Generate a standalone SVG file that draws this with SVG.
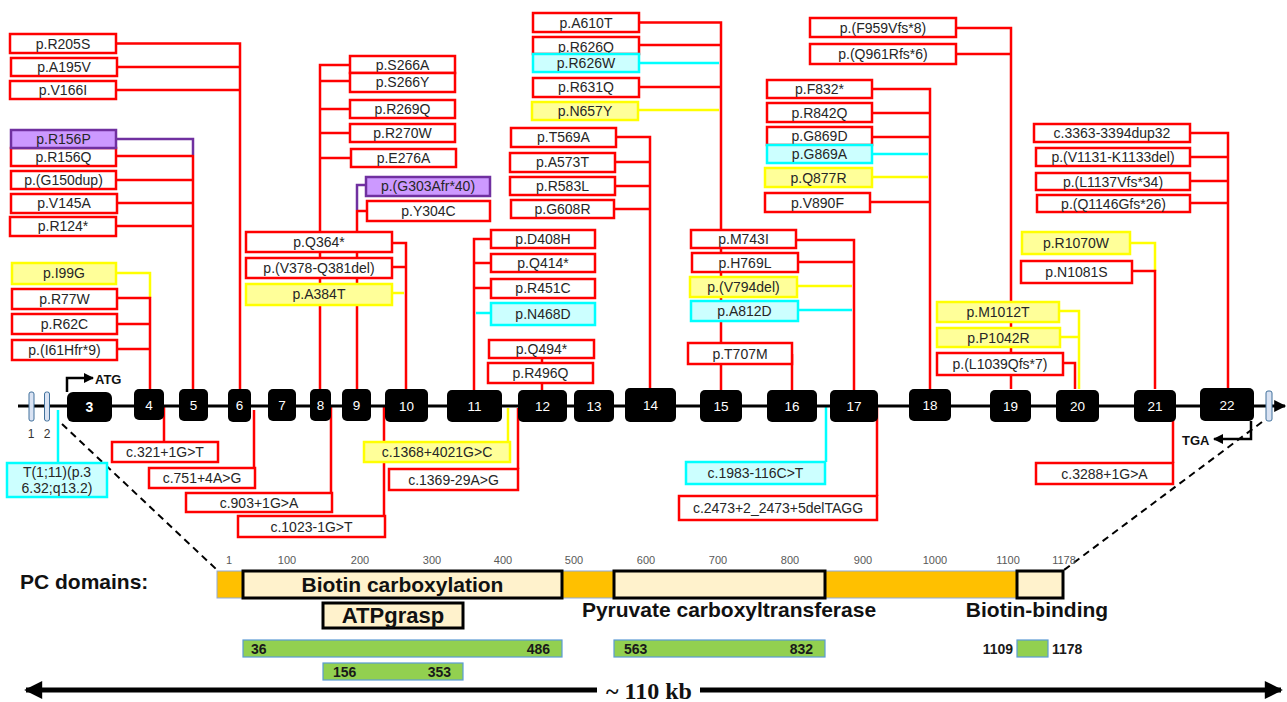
<svg xmlns="http://www.w3.org/2000/svg" width="1287" height="702" viewBox="0 0 1287 702">
<defs>
<style>
.r{fill:#fff;stroke:#ff0000;stroke-width:2.5}
.y{fill:#ffff99;stroke:#ffff00;stroke-width:2.5}
.c{fill:#ccffff;stroke:#00ffff;stroke-width:2.5}
.p{fill:#cc99ff;stroke:#7030a0;stroke-width:2.5}
.t{font-family:"Liberation Sans",Arial,sans-serif;font-size:14px;fill:#262626;text-anchor:middle}
.lr{stroke:#ff0000;stroke-width:2.5;fill:none}
.ly{stroke:#ffff00;stroke-width:2.5;fill:none}
.lc{stroke:#00ffff;stroke-width:2.5;fill:none}
.lp{stroke:#7030a0;stroke-width:2.5;fill:none}
.ex{fill:#000}
.exl{font-family:"Liberation Sans",Arial,sans-serif;font-size:13.5px;fill:#fff;text-anchor:middle}
.sm{fill:#dae3f3;stroke:#41719c;stroke-width:1}
.sc{font-family:"Liberation Sans",Arial,sans-serif;font-size:11px;fill:#595959;text-anchor:middle}
.b{font-family:"Liberation Sans",Arial,sans-serif;font-weight:bold;fill:#111}
.dl{font-family:"Liberation Sans",Arial,sans-serif;font-weight:bold;fill:#111;font-size:21px;text-anchor:middle}
.dom{fill:#fff2cc;stroke:#000;stroke-width:3}
.gr{fill:#92d050;stroke:#5b9bd5;stroke-width:1.2}
.gt{font-family:"Liberation Sans",Arial,sans-serif;font-weight:bold;font-size:14px;fill:#1a1a1a}
.dash{stroke:#000;stroke-width:2;stroke-dasharray:7,5;fill:none}
</style>
<marker id="ahS" viewBox="0 0 10 10" refX="9" refY="5" markerWidth="12" markerHeight="10" markerUnits="userSpaceOnUse" orient="auto"><path d="M0,0 L10,5 L0,10 z" fill="#000"/></marker>
<marker id="ahM" viewBox="0 0 10 10" refX="9" refY="5" markerWidth="16" markerHeight="12" markerUnits="userSpaceOnUse" orient="auto"><path d="M0,0 L10,5 L0,10 z" fill="#000"/></marker>
<marker id="ahL" viewBox="0 0 10 10" refX="9" refY="5" markerWidth="24" markerHeight="18" markerUnits="userSpaceOnUse" orient="auto"><path d="M0,0 L10,5 L0,10 z" fill="#000"/></marker>
</defs>
<rect width="1287" height="702" fill="#fff"/>

<g id="connectors">
<path class="lr" d="M116,43.5 H240 V389 M117,67 H240 M116,90 H240"/>
<path class="lp" d="M116,139 H193 V155"/>
<path class="lr" d="M193,155 V389 M116,156 H193 M116,180 H193 M117,203 H193 M116,226 H193"/>
<path class="ly" d="M116,273 H150 V298"/>
<path class="lr" d="M117,298 H150 V389 M117,324 H150 M117,349 H150"/>
<path class="lr" d="M350,65 H320 V389 M350,81 H320 M350,109 H320 M350,133 H320 M351,158 H320"/>
<path class="lp" d="M366,185 H357 V210"/>
<path class="lr" d="M357,210 V389 M367,211 H357"/>
<path class="lr" d="M392,243 H406 V389 M392,267 H406"/>
<path class="ly" d="M392,293 H404"/>
<path class="lr" d="M491,239 H474 V390 M491,263 H474 M491,288 H474"/>
<path class="lc" d="M491,313 H476"/>
<path class="lr" d="M542,358 V363 M542,383 V390"/>
<path class="lr" d="M616,137 H650 V388 M615,162 H650 M615,186 H650 M614,209 H650"/>
<path class="lr" d="M639,22.5 H721 V390 M639,45 H721 M639,87 H721"/>
<path class="lc" d="M639,63 H719"/>
<path class="ly" d="M638,110 H719"/>
<path class="lr" d="M796,240 H854 V390 M798,262 H854"/>
<path class="ly" d="M797,286 H852"/>
<path class="lc" d="M798,310 H852"/>
<path class="lr" d="M792,354 V390"/>
<path class="lr" d="M956,28 H1011 V389 M956,54 H1011"/>
<path class="lr" d="M872,89 H930 V389 M872,113 H930 M872,137 H930 M870,202 H930"/>
<path class="lc" d="M872,154 H928"/>
<path class="ly" d="M872,177 H928"/>
<path class="lr" d="M1190,133 H1228 V388 M1190,157 H1228 M1190,181 H1228 M1190,203 H1228"/>
<path class="ly" d="M1130,243 H1155 V271"/>
<path class="lr" d="M1132,271 H1155 V389"/>
<path class="ly" d="M1059,311 H1079 V389 M1060,337 H1079"/>
<path class="lr" d="M1063,363 H1075 V389"/>
<path class="lr" d="M164,405 V442 M254,410 V468 M331,407 V493 M384,407 V516 M518,408 V469 M877,405 V496 M1173,407 V463"/>
<path class="ly" d="M508,408 V442"/>
<path class="lc" d="M826,405 V462 M58,410 V463"/>
<path class="dash" d="M62,424 L216,569"/>
<path class="dash" d="M1262,422 L1064,570"/>
</g>

<g id="gene">
<line x1="18" y1="406" x2="1285" y2="406" stroke="#000" stroke-width="3" marker-end="url(#ahM)"/>
<rect class="sm" x="29" y="392" width="5" height="29" rx="2"/>
<rect class="sm" x="44.5" y="392" width="5" height="29" rx="2"/>
<rect class="sm" x="1266" y="391" width="6" height="30" rx="2"/>
<text class="sc" x="31" y="438" style="font-size:12px;fill:#333">1</text>
<text class="sc" x="47" y="438" style="font-size:12px;fill:#333">2</text>
<path d="M67,392 V378 H93" stroke="#000" stroke-width="2.5" fill="none" marker-end="url(#ahS)"/>
<text class="b" x="95" y="384" style="font-size:13px">ATG</text>
<path d="M1251,421 V439 H1214" stroke="#000" stroke-width="2.5" fill="none" marker-end="url(#ahS)"/>
<text class="b" x="1182" y="445" style="font-size:13px">TGA</text>
</g>

<g id="exons">
<g id="ex3"><rect class="ex" x="67" y="392" width="45" height="30" rx="6"/><text class="exl" x="89.5" y="412" style="font-weight:bold;font-size:14px">3</text></g>
<g id="ex4"><rect class="ex" x="134" y="389" width="30" height="31" rx="5"/><text class="exl" x="149" y="410">4</text></g>
<g id="ex5"><rect class="ex" x="179" y="389" width="29" height="32" rx="5"/><text class="exl" x="193.5" y="410">5</text></g>
<g id="ex6"><rect class="ex" x="228" y="389" width="23" height="33" rx="5"/><text class="exl" x="239.5" y="410">6</text></g>
<g id="ex7"><rect class="ex" x="268" y="389" width="28" height="32" rx="5"/><text class="exl" x="282" y="410">7</text></g>
<g id="ex8"><rect class="ex" x="310" y="389" width="21" height="32" rx="5"/><text class="exl" x="320.5" y="410">8</text></g>
<g id="ex9"><rect class="ex" x="342" y="389" width="29" height="32" rx="5"/><text class="exl" x="356.5" y="410">9</text></g>
<g id="ex10"><rect class="ex" x="385" y="389" width="43" height="33" rx="5"/><text class="exl" x="406.5" y="411">10</text></g>
<g id="ex11"><rect class="ex" x="447" y="390" width="55" height="32" rx="5"/><text class="exl" x="474.5" y="411">11</text></g>
<g id="ex12"><rect class="ex" x="518" y="390" width="49" height="32" rx="5"/><text class="exl" x="542.5" y="411">12</text></g>
<g id="ex13"><rect class="ex" x="574" y="390" width="40" height="32" rx="5"/><text class="exl" x="594" y="411">13</text></g>
<g id="ex14"><rect class="ex" x="625" y="388" width="51" height="34" rx="5"/><text class="exl" x="650.5" y="410">14</text></g>
<g id="ex15"><rect class="ex" x="700" y="390" width="42" height="32" rx="5"/><text class="exl" x="721" y="411">15</text></g>
<g id="ex16"><rect class="ex" x="767" y="390" width="50" height="32" rx="5"/><text class="exl" x="792" y="411">16</text></g>
<g id="ex17"><rect class="ex" x="830" y="390" width="48" height="32" rx="5"/><text class="exl" x="854" y="411">17</text></g>
<g id="ex18"><rect class="ex" x="909" y="389" width="42" height="32" rx="5"/><text class="exl" x="930" y="410">18</text></g>
<g id="ex19"><rect class="ex" x="990" y="390" width="41" height="32" rx="5"/><text class="exl" x="1010.5" y="411">19</text></g>
<g id="ex20"><rect class="ex" x="1056" y="390" width="43" height="32" rx="5"/><text class="exl" x="1077.5" y="411">20</text></g>
<g id="ex21"><rect class="ex" x="1134" y="390" width="42" height="32" rx="5"/><text class="exl" x="1155" y="411">21</text></g>
<g id="ex22"><rect class="ex" x="1200" y="388" width="54" height="33" rx="5"/><text class="exl" x="1227" y="410">22</text></g>
</g>

<g id="variants">
<g id="v-R205S"><rect class="r" x="10" y="34" width="106" height="19"/><text class="t" x="63" y="48.5">p.R205S</text></g>
<g id="v-A195V"><rect class="r" x="11" y="58" width="106" height="18"/><text class="t" x="64" y="72">p.A195V</text></g>
<g id="v-V166I"><rect class="r" x="10" y="81" width="106" height="18"/><text class="t" x="63" y="95">p.V166I</text></g>
<g id="v-R156Q"><rect class="r" x="11" y="148" width="105" height="18"/><text class="t" x="63.5" y="162">p.R156Q</text></g>
<g id="v-R156P"><rect class="p" x="11" y="130" width="105" height="18"/><text class="t" x="63.5" y="144">p.R156P</text></g>
<g id="v-G150dup"><rect class="r" x="11" y="171" width="105" height="18"/><text class="t" x="63.5" y="185">p.(G150dup)</text></g>
<g id="v-V145A"><rect class="r" x="11" y="194" width="106" height="19"/><text class="t" x="64" y="208">p.V145A</text></g>
<g id="v-R124"><rect class="r" x="10" y="217" width="106" height="19"/><text class="t" x="63" y="231">p.R124*</text></g>
<g id="v-I99G"><rect class="y" x="12" y="263" width="104" height="21"/><text class="t" x="64" y="278">p.I99G</text></g>
<g id="v-R77W"><rect class="r" x="12" y="289" width="105" height="20"/><text class="t" x="64.5" y="304">p.R77W</text></g>
<g id="v-R62C"><rect class="r" x="12" y="314" width="105" height="20"/><text class="t" x="64.5" y="329">p.R62C</text></g>
<g id="v-I61Hfr"><rect class="r" x="12" y="340" width="105" height="20"/><text class="t" x="64.5" y="355">p.(I61Hfr*9)</text></g>

<g id="v-S266A"><rect class="r" x="350" y="56" width="105" height="17"/><text class="t" x="402.5" y="69.5">p.S266A</text></g>
<g id="v-S266Y"><rect class="r" x="350" y="73" width="105" height="19"/><text class="t" x="402.5" y="87">p.S266Y</text></g>
<g id="v-R269Q"><rect class="r" x="350" y="100" width="105" height="18"/><text class="t" x="402.5" y="114">p.R269Q</text></g>
<g id="v-R270W"><rect class="r" x="350" y="124" width="105" height="18"/><text class="t" x="402.5" y="138">p.R270W</text></g>
<g id="v-E276A"><rect class="r" x="351" y="149" width="105" height="18"/><text class="t" x="403.5" y="163">p.E276A</text></g>
<g id="v-G303Afr"><rect class="p" x="366" y="177" width="124" height="19"/><text class="t" x="428" y="191">p.(G303Afr*40)</text></g>
<g id="v-Y304C"><rect class="r" x="367" y="201" width="123" height="20"/><text class="t" x="428.5" y="216">p.Y304C</text></g>
<g id="v-Q364"><rect class="r" x="246" y="232" width="146" height="20"/><text class="t" x="319" y="247">p.Q364*</text></g>
<g id="v-V378del"><rect class="r" x="246" y="258" width="146" height="20"/><text class="t" x="319" y="273">p.(V378-Q381del)</text></g>
<g id="v-A384T"><rect class="y" x="246" y="284" width="146" height="21"/><text class="t" x="319" y="299">p.A384T</text></g>

<g id="v-D408H"><rect class="r" x="491" y="230" width="104" height="18"/><text class="t" x="543" y="244">p.D408H</text></g>
<g id="v-Q414"><rect class="r" x="491" y="254" width="104" height="18"/><text class="t" x="543" y="268">p.Q414*</text></g>
<g id="v-R451C"><rect class="r" x="491" y="279" width="104" height="19"/><text class="t" x="543" y="293">p.R451C</text></g>
<g id="v-N468D"><rect class="c" x="491" y="303" width="104" height="22"/><text class="t" x="543" y="319">p.N468D</text></g>
<g id="v-Q494"><rect class="r" x="489" y="340" width="105" height="18"/><text class="t" x="541.5" y="354">p.Q494*</text></g>
<g id="v-R496Q"><rect class="r" x="488" y="363" width="105" height="20"/><text class="t" x="540.5" y="378">p.R496Q</text></g>
<g id="v-T569A"><rect class="r" x="511" y="128" width="105" height="19"/><text class="t" x="563.5" y="142">p.T569A</text></g>
<g id="v-A573T"><rect class="r" x="510" y="153" width="105" height="19"/><text class="t" x="562.5" y="167">p.A573T</text></g>
<g id="v-R583L"><rect class="r" x="510" y="177" width="105" height="18"/><text class="t" x="562.5" y="191">p.R583L</text></g>
<g id="v-G608R"><rect class="r" x="511" y="200" width="103" height="18"/><text class="t" x="562.5" y="214">p.G608R</text></g>

<g id="v-A610T"><rect class="r" x="533" y="13" width="106" height="19"/><text class="t" x="586" y="27.5">p.A610T</text></g>
<g id="v-R626Q"><rect class="r" x="533" y="37" width="106" height="17"/><text class="t" x="586" y="51.5">p.R626Q</text></g>
<g id="v-R626W"><rect class="c" x="533" y="54" width="106" height="18"/><text class="t" x="586" y="67.5">p.R626W</text></g>
<g id="v-R631Q"><rect class="r" x="533" y="78" width="106" height="19"/><text class="t" x="586" y="92">p.R631Q</text></g>
<g id="v-N657Y"><rect class="y" x="532" y="102" width="106" height="18"/><text class="t" x="585" y="116">p.N657Y</text></g>
<g id="v-M743I"><rect class="r" x="691" y="230" width="105" height="18"/><text class="t" x="743.5" y="244">p.M743I</text></g>
<g id="v-H769L"><rect class="r" x="692" y="253" width="106" height="19"/><text class="t" x="745" y="267.5">p.H769L</text></g>
<g id="v-V794del"><rect class="y" x="690" y="277" width="107" height="20"/><text class="t" x="743.5" y="291.5">p.(V794del)</text></g>
<g id="v-A812D"><rect class="c" x="691" y="301" width="107" height="20"/><text class="t" x="744.5" y="315.5">p.A812D</text></g>
<g id="v-T707M"><rect class="r" x="688" y="343" width="104" height="21"/><text class="t" x="740" y="358.5">p.T707M</text></g>

<g id="v-F959Vfs"><rect class="r" x="810" y="18" width="146" height="19"/><text class="t" x="883" y="32.5">p.(F959Vfs*8)</text></g>
<g id="v-Q961Rfs"><rect class="r" x="810" y="44" width="146" height="20"/><text class="t" x="883" y="59">p.(Q961Rfs*6)</text></g>
<g id="v-F832"><rect class="r" x="767" y="80" width="105" height="18"/><text class="t" x="819.5" y="94">p.F832*</text></g>
<g id="v-R842Q"><rect class="r" x="767" y="103" width="105" height="19"/><text class="t" x="819.5" y="117.5">p.R842Q</text></g>
<g id="v-G869D"><rect class="r" x="767" y="127" width="105" height="18"/><text class="t" x="819.5" y="141">p.G869D</text></g>
<g id="v-G869A"><rect class="c" x="767" y="145" width="105" height="18"/><text class="t" x="819.5" y="159">p.G869A</text></g>
<g id="v-Q877R"><rect class="y" x="765" y="168" width="107" height="19"/><text class="t" x="818.5" y="182.5">p.Q877R</text></g>
<g id="v-V890F"><rect class="r" x="765" y="193" width="105" height="19"/><text class="t" x="817.5" y="207.5">p.V890F</text></g>

<g id="v-c3363dup"><rect class="r" x="1034" y="124" width="156" height="18"/><text class="t" x="1112" y="138">c.3363-3394dup32</text></g>
<g id="v-V1131del"><rect class="r" x="1036" y="148" width="154" height="18"/><text class="t" x="1113" y="162">p.(V1131-K1133del)</text></g>
<g id="v-L1137Vfs"><rect class="r" x="1036" y="173" width="154" height="17"/><text class="t" x="1113" y="186.5">p.(L1137Vfs*34)</text></g>
<g id="v-Q1146Gfs"><rect class="r" x="1037" y="195" width="153" height="17"/><text class="t" x="1113.5" y="208.5">p.(Q1146Gfs*26)</text></g>
<g id="v-R1070W"><rect class="y" x="1022" y="232" width="108" height="22"/><text class="t" x="1076" y="248">p.R1070W</text></g>
<g id="v-N1081S"><rect class="r" x="1021" y="261" width="111" height="22"/><text class="t" x="1076.5" y="277">p.N1081S</text></g>
<g id="v-M1012T"><rect class="y" x="937" y="302" width="122" height="20"/><text class="t" x="998" y="317">p.M1012T</text></g>
<g id="v-P1042R"><rect class="y" x="937" y="328" width="123" height="19"/><text class="t" x="998.5" y="342.5">p.P1042R</text></g>
<g id="v-L1039Qfs"><rect class="r" x="937" y="353" width="126" height="22"/><text class="t" x="1000" y="369">p.(L1039Qfs*7)</text></g>

<g id="v-c321"><rect class="r" x="112" y="442" width="106" height="20"/><text class="t" x="165" y="457">c.321+1G&gt;T</text></g>
<g id="v-c751"><rect class="r" x="149" y="468" width="106" height="20"/><text class="t" x="202" y="483">c.751+4A&gt;G</text></g>
<g id="v-c903"><rect class="r" x="186" y="493" width="146" height="19"/><text class="t" x="259" y="507.5">c.903+1G&gt;A</text></g>
<g id="v-c1023"><rect class="r" x="238" y="516" width="147" height="21"/><text class="t" x="311.5" y="531.5">c.1023-1G&gt;T</text></g>
<g id="v-c1368"><rect class="y" x="364" y="442" width="146" height="20"/><text class="t" x="437" y="457">c.1368+4021G&gt;C</text></g>
<g id="v-c1369"><rect class="r" x="389" y="469" width="129" height="21"/><text class="t" x="453.5" y="484.5">c.1369-29A&gt;G</text></g>
<g id="v-c1983"><rect class="c" x="686" y="462" width="139" height="22"/><text class="t" x="755.5" y="478">c.1983-116C&gt;T</text></g>
<g id="v-c2473"><rect class="r" x="679" y="496" width="198" height="24"/><text class="t" x="778" y="513">c.2473+2_2473+5delTAGG</text></g>
<g id="v-c3288"><rect class="r" x="1036" y="463" width="137" height="21"/><text class="t" x="1104.5" y="478.5">c.3288+1G&gt;A</text></g>
<g id="v-T111"><rect class="c" x="7" y="463" width="100" height="34"/><text class="t" x="57" y="477">T(1;11)(p.3</text><text class="t" x="57" y="493">6.32;q13.2)</text></g>
</g>

<g id="domains">
<text class="b" x="20" y="589" style="font-size:21px">PC domains:</text>
<g id="scale">
<text class="sc" x="229" y="564">1</text>
<text class="sc" x="287" y="564">100</text>
<text class="sc" x="360" y="564">200</text>
<text class="sc" x="432" y="564">300</text>
<text class="sc" x="503" y="564">400</text>
<text class="sc" x="574" y="564">500</text>
<text class="sc" x="646" y="564">600</text>
<text class="sc" x="718" y="564">700</text>
<text class="sc" x="790" y="564">800</text>
<text class="sc" x="863" y="564">900</text>
<text class="sc" x="935" y="564">1000</text>
<text class="sc" x="1008" y="564">1100</text>
<text class="sc" x="1064" y="564">1178</text>
</g>
<rect x="217" y="571" width="846" height="27" fill="#ffc000" stroke="#8faadc" stroke-width="1"/>
<g id="d-biotin-carb"><rect class="dom" x="243" y="571" width="319" height="27"/><text class="dl" x="402.5" y="592">Biotin carboxylation</text></g>
<g id="d-pct"><rect class="dom" x="614" y="571" width="211" height="27"/><text class="dl" x="729" y="617">Pyruvate carboxyltransferase</text></g>
<g id="d-bb"><rect class="dom" x="1017" y="571" width="46" height="27"/><text class="dl" x="1037" y="617">Biotin-binding</text></g>
<g id="d-atp"><rect class="dom" x="323" y="603" width="140" height="25"/><text class="dl" x="393" y="623" style="font-size:22px">ATPgrasp</text></g>
<g id="g-36"><rect class="gr" x="243" y="640" width="319" height="17"/><text class="gt" x="251" y="654">36</text><text class="gt" x="550" y="654" text-anchor="end">486</text></g>
<g id="g-563"><rect class="gr" x="614" y="640" width="211" height="17"/><text class="gt" x="624" y="654">563</text><text class="gt" x="813" y="654" text-anchor="end">832</text></g>
<g id="g-1109"><rect class="gr" x="1017" y="640" width="31" height="17"/><text class="gt" x="1013" y="654" text-anchor="end">1109</text><text class="gt" x="1052" y="654">1178</text></g>
<g id="g-156"><rect class="gr" x="323" y="663" width="140" height="17"/><text class="gt" x="333" y="677">156</text><text class="gt" x="451" y="677" text-anchor="end">353</text></g>
<line x1="597" y1="690" x2="26" y2="690" stroke="#000" stroke-width="5" marker-end="url(#ahL)"/>
<line x1="700" y1="690" x2="1281" y2="690" stroke="#000" stroke-width="5" marker-end="url(#ahL)"/>
<text x="649" y="699" text-anchor="middle" style="font-family:'Liberation Serif','Times New Roman',serif;font-weight:bold;font-size:24px;fill:#111">~ 110 kb</text>
</g>
</svg>
